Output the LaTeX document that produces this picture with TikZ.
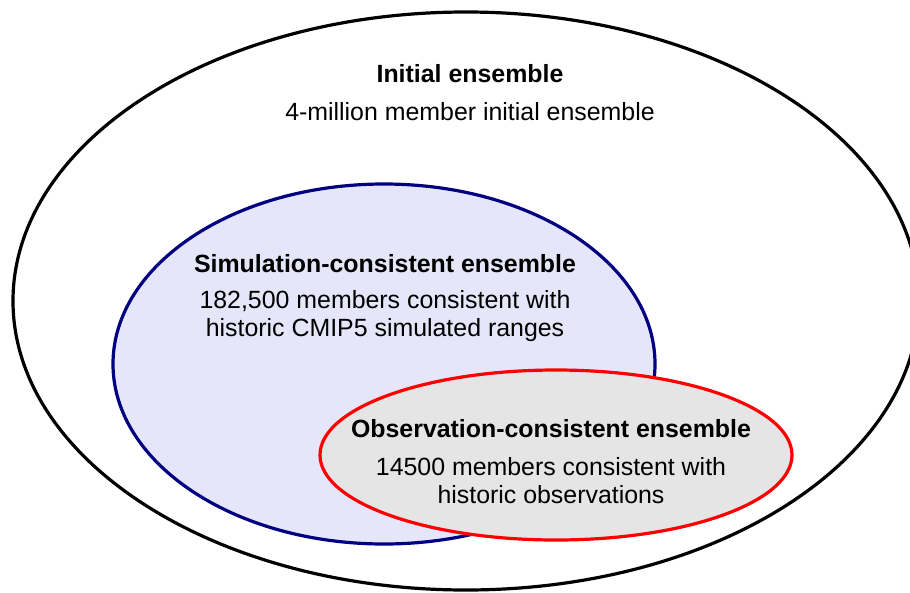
\documentclass[tikz,border=0pt]{standalone}
\usepackage{fontspec}
\setmainfont{Liberation Sans}
\usetikzlibrary{shapes.geometric}
\definecolor{navyline}{RGB}{0,0,128}
\definecolor{lavfill}{RGB}{230,230,250}
\definecolor{grayfill}{RGB}{229,229,229}
\definecolor{redline}{RGB}{255,0,0}
\tikzset{
  venn/.style={ellipse, inner sep=0pt, line width=3.2pt},
  ttl/.style={font=\fontsize{24.9}{28}\selectfont\bfseries, inner sep=0pt, anchor=center},
  bdy/.style={font=\fontsize{24.9}{28}\selectfont, align=center, inner sep=0pt, anchor=center},
}
\begin{document}
\begin{tikzpicture}[x=1pt,y=-1pt]
\useasboundingbox (0,0) rectangle (910,592);
\node[venn, draw=black, fill=white, minimum width=906pt, minimum height=578pt] (outer) at (466,301) {};
\node[venn, draw=navyline, fill=lavfill, minimum width=542pt, minimum height=360pt] (sim) at (384,364) {};
\node[venn, draw=redline, fill=grayfill, minimum width=472pt, minimum height=170pt] (obs) at (556,455) {};
\node[ttl] (t1) at (470,74) {Initial ensemble};
\node[bdy] (b1) at (470,112) {4-million member initial ensemble};
\node[ttl] (t2) at (385,264) {Simulation-consistent ensemble};
\node[bdy] (b2) at (385,316) {182,500 members consistent with\\historic CMIP5 simulated ranges};
\node[ttl] (t3) at (551,429) {Observation-consistent ensemble};
\node[bdy] (b3) at (551,480.5) {14500 members consistent with\\historic observations};
\end{tikzpicture}
\end{document}
